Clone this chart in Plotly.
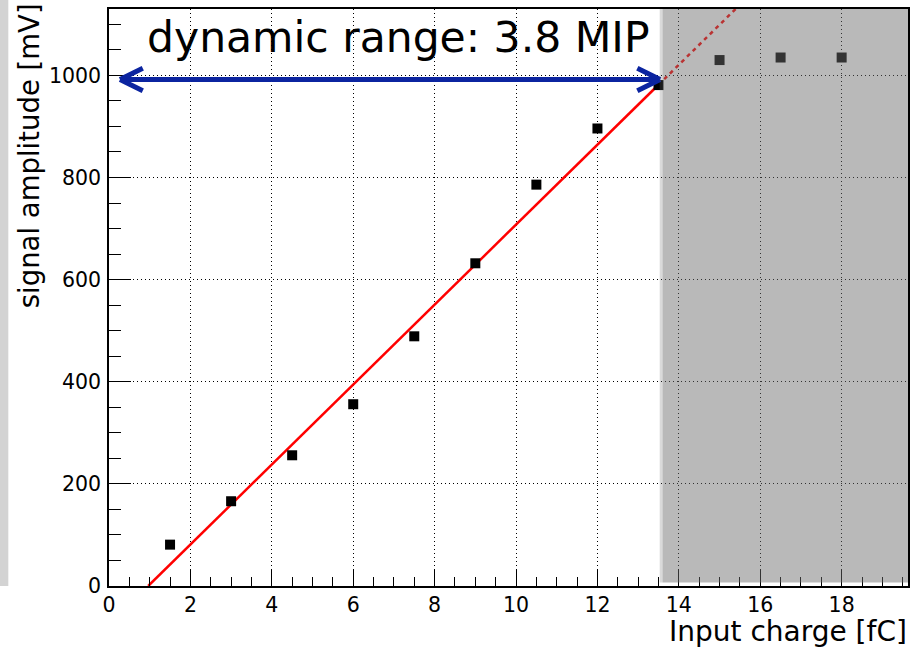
import plotly.graph_objects as go

# Measured signal amplitude vs injected charge
charge_fc = [1.5, 3.0, 4.5, 6.0, 7.5, 9.0, 10.5, 12.0, 13.5, 15.0, 16.5, 18.0]
amplitude_mv = [81, 166, 256, 356, 489, 632, 786, 896, 981, 1030, 1035, 1035]

# Linear fit parameters (mV per fC, mV)
fit_slope = 78.3
fit_offset = -75.4
linear_limit_fc = 13.5      # end of the linear region
saturated_from_fc = 13.6    # start of the shaded saturation region

x_range = [0, 19.63]
y_range = [0, 1130]
x_ticks = [0, 2, 4, 6, 8, 10, 12, 14, 16, 18]
y_ticks = [0, 200, 400, 600, 800, 1000]

title_text = "dynamic range: 3.8 MIP"
arrow_y = 992
arrow_x0 = 0.27

FONT = "DejaVu Sans"

# fit line: solid inside the linear region, dashed beyond
x_zero = -fit_offset / fit_slope
x_top = (y_range[1] - fit_offset) / fit_slope
solid_x = [x_zero, linear_limit_fc]
solid_y = [fit_slope * x + fit_offset for x in solid_x]
dash_x = [linear_limit_fc, x_top]
dash_y = [fit_slope * x + fit_offset for x in dash_x]

fig = go.Figure()
fig.add_trace(go.Scatter(x=solid_x, y=solid_y, mode="lines",
                         line=dict(color="#ff0000", width=2.5),
                         showlegend=False, hoverinfo="skip"))
fig.add_trace(go.Scatter(x=dash_x, y=dash_y, mode="lines",
                         line=dict(color="#ff0000", width=2.5, dash="4px,4px"),
                         showlegend=False, hoverinfo="skip"))
fig.add_trace(go.Scatter(x=charge_fc, y=amplitude_mv, mode="markers",
                         marker=dict(symbol="square", size=10, color="black",
                                     line=dict(width=0)),
                         showlegend=False))

shapes = []
# double-headed arrow marking the dynamic range
arrow_color = "#0b24a0"
head_dx, head_dy = 0.56, 22
arrow_x1 = linear_limit_fc + 0.04
shapes.append(dict(type="line", xref="x", yref="y", x0=arrow_x0, x1=arrow_x1,
                   y0=arrow_y, y1=arrow_y, line=dict(color=arrow_color, width=5)))
for tip, sgn in [(arrow_x0, 1), (arrow_x1, -1)]:
    for dy in (head_dy, -head_dy):
        shapes.append(dict(type="line", xref="x", yref="y", x0=tip,
                           x1=tip + sgn * head_dx, y0=arrow_y, y1=arrow_y + dy,
                           line=dict(color=arrow_color, width=5)))

# shaded saturation region (semi-transparent overlay with a soft left edge)
shapes.append(dict(type="rect", xref="x", yref="y", x0=saturated_from_fc - 0.07,
                   x1=saturated_from_fc, y0=7, y1=y_range[1], layer="above",
                   fillcolor="rgba(107,107,107,0.25)", line=dict(width=0)))
shapes.append(dict(type="rect", xref="x", yref="y", x0=saturated_from_fc,
                   x1=x_range[1], y0=7, y1=y_range[1], layer="above",
                   fillcolor="rgba(107,107,107,0.475)", line=dict(width=0)))

# light strip along the left page edge
shapes.append(dict(type="rect", xref="paper", yref="paper", x0=-0.137, x1=-0.126,
                   y0=0.0, y1=1.02, fillcolor="#d3d3d3", line=dict(width=0),
                   layer="below"))

annotations = [
    dict(text=title_text, xref="paper", yref="paper", x=0.045, y=0.951,
         xanchor="left", yanchor="middle", showarrow=False,
         font=dict(family=FONT, size=42.5, color="black")),
    dict(text="Input charge [fC]", xref="paper", yref="paper", x=1.0, y=-0.0795,
         xanchor="right", yanchor="middle", showarrow=False, borderpad=0,
         font=dict(family=FONT, size=28, color="black")),
    dict(text="signal amplitude [mV]", xref="paper", yref="paper", x=-0.1,
         y=0.745, xanchor="center", yanchor="middle", textangle=-90,
         showarrow=False, font=dict(family=FONT, size=27.5, color="black")),
]

axis_common = dict(
    showline=True, linecolor="black", linewidth=1.5, mirror=True,
    showgrid=True, gridcolor="black", gridwidth=1, griddash="1px,3px",
    zeroline=False, ticks="inside", tickcolor="black", tickwidth=1,
    tickfont=dict(family=FONT, size=20.5, color="black"),
)

fig.update_layout(
    width=915, height=650,
    margin=dict(l=109, r=5, t=9, b=64),
    paper_bgcolor="white", plot_bgcolor="white",
    shapes=shapes, annotations=annotations,
    xaxis=dict(range=x_range, tickvals=x_ticks, ticklen=17, ticklabelstandoff=0,
               minor=dict(dtick=0.5, ticklen=9, ticks="inside", tickcolor="black",
                          showgrid=False),
               **axis_common),
    yaxis=dict(range=y_range, tickvals=y_ticks, ticklen=22, ticklabelstandoff=2,
               minor=dict(dtick=50, ticklen=12, ticks="inside", tickcolor="black",
                          showgrid=False),
               **axis_common),
)

fig.write_html("out.html")
